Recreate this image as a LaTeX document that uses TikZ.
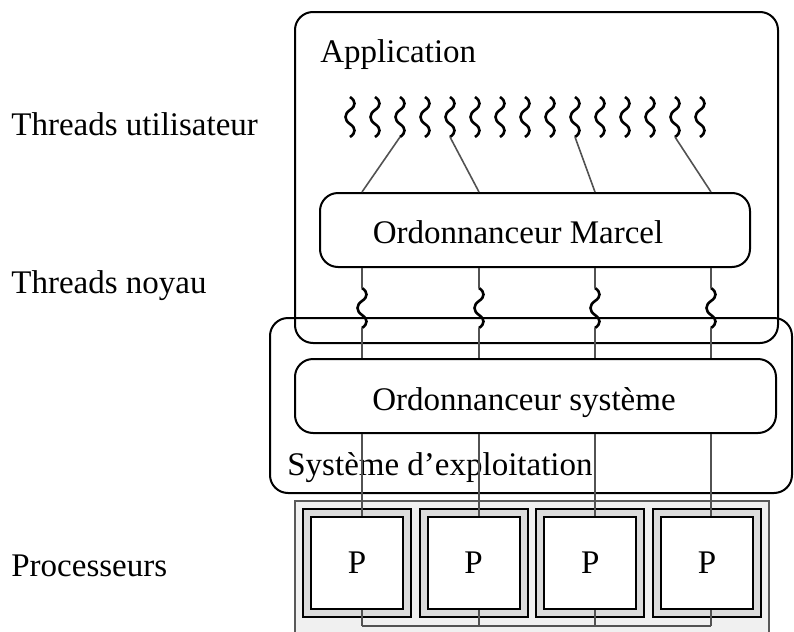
\documentclass[tikz,border=0pt]{standalone}
\usepackage{fontspec}
\setmainfont{Liberation Serif}
\usetikzlibrary{fit}

\begin{document}
\begin{tikzpicture}[x=0.5pt, y=-0.5pt,
    every node/.style={font=\fontsize{16.5}{20}\selectfont, inner sep=0pt},
    box/.style={draw, line width=1pt, rounded corners=9pt},
    link/.style={draw=black!68, line width=0.8pt},
    frame/.style={draw, line width=1pt, fill=black!14, minimum size=54pt},
    cpu/.style={draw, line width=1pt, fill=white, minimum size=46pt},
    thread/.pic={
        \draw[line width=1.3pt] (0,0) .. controls (6,4) and (6,9) .. (0,13)
            .. controls (-6,17) and (-6,23) .. (0,27)
            .. controls (6,31) and (6,36) .. (0,40);
    }]
    \useasboundingbox (0,0) rectangle (794,632);

    % Labels on the left
    \node[anchor=base west] (lbluser) at (11,135) {Threads utilisateur};
    \node[anchor=base west] (lblkernel) at (11,293) {Threads noyau};
    \node[anchor=base west] (lblcpu) at (11,576) {Processeurs};

    % Boxes
    \node[box, fit={(295,12) (778,343)}] (app) {};
    \node[anchor=base west] (apptxt) at (320,62) {Application};
    \node[box, fit={(320,193) (750,267)}] (marcel) {};
    \node[anchor=base] (marceltxt) at (518,243) {Ordonnanceur Marcel};
    \node[box, fit={(270,318) (792,493)}] (os) {};
    \node[anchor=base west] (ostxt) at (287,475) {Système d’exploitation};
    \node[box, fit={(295,359) (776,433)}] (sys) {};
    \node[anchor=base] (systxt) at (524,410) {Ordonnanceur système};

    % Processors
    \fill[black!6] (295,501) rectangle (769,640);
    \draw[draw=black!65, line width=0.8pt] (295,640) -- (295,501) -- (769,501) -- (769,640);
    \foreach \k in {1,...,4} {
        \node[frame] (f\k) at ({357+116.67*(\k-1)},563) {};
        \node[cpu] (cpu\k) at (f\k) {P};
    }

    % User threads
    \foreach \i in {1,...,15} {
        \pic at ({325+25*\i},97) {thread};
        \coordinate (u\i) at ({325+25*\i},137);
    }

    % Kernel threads
    \coordinate (bus) at (0,626);
    \foreach \x [count=\k] in {362,479,595,711} {
        \coordinate (k\k) at (\x,288);
        \coordinate (kb\k) at (\x,328);
        \pic at (k\k) {thread};
        \draw[link] (marcel.south -| k\k) -- (k\k);
        \draw[link] (kb\k) -- (sys.north -| k\k);
        \draw[link] (sys.south -| k\k) -- (cpu\k.north -| k\k);
        \draw[link] (cpu\k.south -| k\k) -- (k\k |- bus);
    }
    \draw[link] (k1 |- bus) -- (k4 |- bus);

    % User threads onto Marcel
    \foreach \u/\k in {3/1,5/2,10/3,14/4}
        \draw[link] (u\u) -- (marcel.north -| k\k);
\end{tikzpicture}
\end{document}
